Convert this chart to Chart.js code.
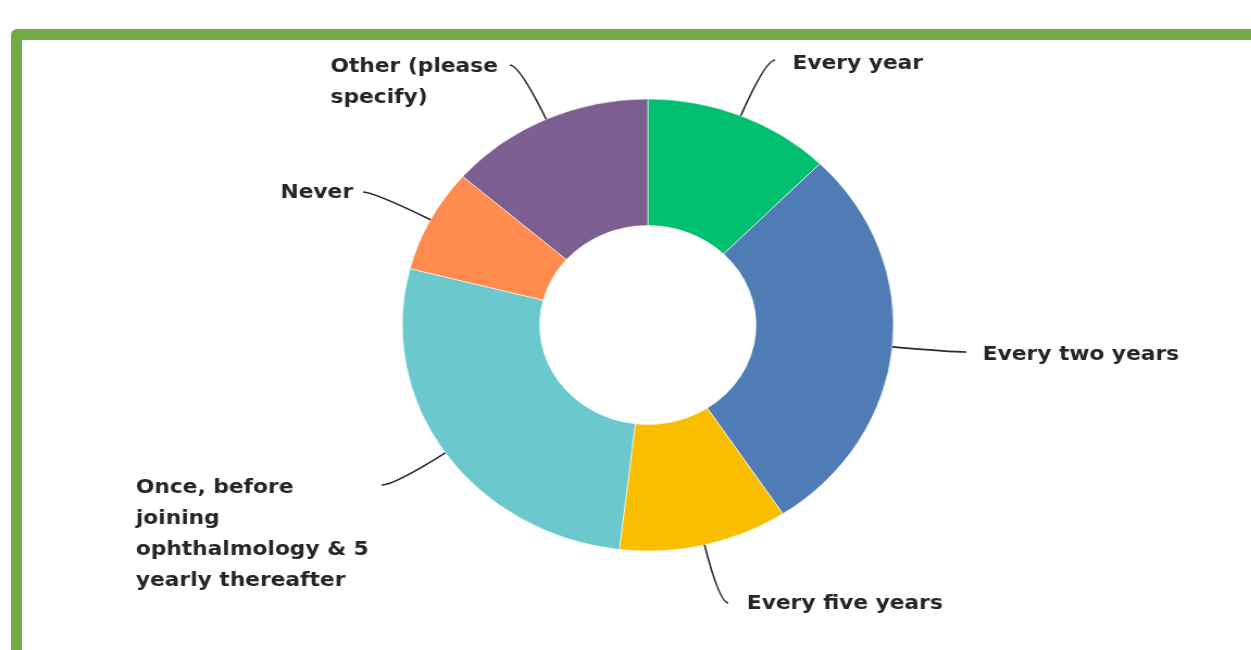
<!DOCTYPE html>
<html>
<head>
<meta charset="utf-8">
<script src="https://cdn.jsdelivr.net/npm/chart.js@4"></script>
<style>
  html, body { margin: 0; padding: 0; background: #fff; overflow: hidden; }
  .frame {
    position: absolute; left: 11px; top: 29px;
    width: 1400px; height: 800px;
    border: 11px solid #70ad47; border-radius: 6px;
    box-sizing: border-box;
  }
  .wrap {
    position: absolute; left: 0; top: 0;
    width: 1151px; height: 650px;
    transform: scaleX(1.087); transform-origin: 0 0;
  }
</style>
</head>
<body>
<div class="frame"></div>
<div class="wrap"><canvas id="freqChart"></canvas></div>
<script>
const answers = [
  'Every year',
  'Every two years',
  'Every five years',
  'Once, before joining ophthalmology & 5 yearly thereafter',
  'Never',
  'Other (please specify)'
];
const responses = [10, 23, 9, 22, 6, 11];
const sliceColors = ['#00bf6f', '#507cb6', '#f9be00', '#6bc8cd', '#ff8b4f', '#7d5e90'];

// where each leader line ends and where its text block starts (left x, middle of first line)
const leaderEnds = [[713, 60], [889, 352], [670, 603], [351, 485], [334, 192], [469, 65]];
const textSpots = [[729, 64], [904, 355], [687, 604], [125, 488], [258, 193], [304, 67]];

const FONT = 'bold 20px "DejaVu Sans"';
const LINE_H = 31;
const WRAP_W = 225;

function wrapText(ctx, text, maxW) {
  const words = text.split(' ');
  const lines = [];
  let cur = '';
  words.forEach(w => {
    const test = cur ? cur + ' ' + w : w;
    if (cur && ctx.measureText(test).width > maxW) {
      lines.push(cur);
      cur = w;
    } else {
      cur = test;
    }
  });
  if (cur) lines.push(cur);
  return lines;
}

const calloutPlugin = {
  id: 'callouts',
  afterDatasetsDraw(chart) {
    const ctx = chart.ctx;
    const arcs = chart.getDatasetMeta(0).data;
    ctx.save();
    ctx.font = FONT;
    ctx.fillStyle = '#262626';
    ctx.strokeStyle = '#2a2a2a';
    ctx.lineWidth = 1.7;
    ctx.textBaseline = 'middle';
    ctx.textAlign = 'left';
    arcs.forEach((arc, i) => {
      const mid = (arc.startAngle + arc.endAngle) / 2;
      const dx = Math.cos(mid), dy = Math.sin(mid);
      const ax = arc.x + dx * arc.outerRadius;
      const ay = arc.y + dy * arc.outerRadius;
      const [ex, ey] = leaderEnds[i];
      const t = (ey - ay) / dy;
      const kx = ax + dx * t;
      ctx.beginPath();
      ctx.moveTo(ax, ay);
      ctx.quadraticCurveTo(kx, ey, ex, ey);
      ctx.stroke();

      const lines = wrapText(ctx, answers[i], WRAP_W);
      const [tx, ty] = textSpots[i];
      lines.forEach((ln, j) => ctx.fillText(ln, tx, ty + j * LINE_H));
    });
    ctx.restore();
  }
};

new Chart(document.getElementById('freqChart'), {
  type: 'doughnut',
  data: {
    labels: answers,
    datasets: [{
      data: responses,
      backgroundColor: sliceColors,
      borderColor: 'rgba(255,255,255,0.6)',
      borderWidth: 1
    }]
  },
  options: {
    responsive: true,
    maintainAspectRatio: false,
    animation: false,
    radius: 226,
    cutout: '44%',
    layout: { padding: { left: 356, right: 315, top: 85, bottom: 85 } },
    plugins: {
      legend: { display: false },
      tooltip: { enabled: false }
    }
  },
  plugins: [calloutPlugin]
});
</script>
</body>
</html>
